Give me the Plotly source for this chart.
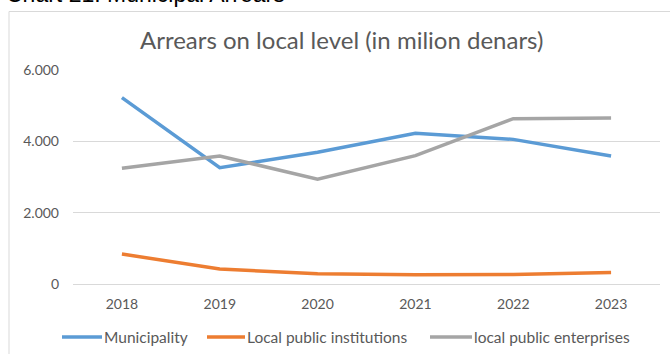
import plotly.graph_objects as go

# Arrears on local level, in million denars
years = ["2018", "2019", "2020", "2021", "2022", "2023"]
municipality = [5225, 3260, 3695, 4225, 4055, 3590]
local_public_institutions = [840, 420, 290, 260, 265, 320]
local_public_enterprises = [3245, 3590, 2935, 3600, 4635, 4655]

series_names = ["Municipality", "Local public institutions", "local public enterprises"]
series_colors = ["#5B9BD5", "#ED7D31", "#A5A5A5"]

W, H = 670, 354
ML, MR, MT, MB = 73, 10, 70, 70
PW, PH = W - ML - MR, H - MT - MB


def px_x(px):
    return (px - ML) / PW


def px_y(py):
    return (H - MB - py) / PH


fig = go.Figure()
for name, vals, col in zip(series_names,
                           [municipality, local_public_institutions, local_public_enterprises],
                           series_colors):
    fig.add_trace(go.Scatter(
        x=years, y=vals, name=name, mode="lines",
        line=dict(color=col, width=3.5), showlegend=False,
    ))

text_font = "Lato, 'Open Sans', sans-serif"

# Legend row below the axis: a 40px line key followed by its label
legend_key_x = [(62, 102), (207, 245), (430, 472)]
legend_y = 337
legend_shapes, legend_labels = [], []
for name, col, (kx0, kx1) in zip(series_names, series_colors, legend_key_x):
    legend_shapes.append(dict(
        type="line", xref="paper", yref="paper",
        x0=px_x(kx0), x1=px_x(kx1), y0=px_y(legend_y), y1=px_y(legend_y),
        line=dict(color=col, width=3.5),
    ))
    legend_labels.append(dict(
        text=name, xref="paper", yref="paper", x=px_x(kx1), y=px_y(legend_y),
        xanchor="left", yanchor="middle", showarrow=False,
        font=dict(family=text_font, size=15.5, color="#595959"),
    ))

fig.update_layout(
    width=W, height=H,
    margin=dict(l=ML, r=MR, t=MT, b=MB, pad=0, autoexpand=False),
    paper_bgcolor="white", plot_bgcolor="white",
    separators=",.",
    showlegend=False,
    xaxis=dict(
        type="category", range=[-0.5, 5.5], showgrid=False, zeroline=False,
        showline=False, ticks="", automargin=False,
        tickfont=dict(family=text_font, size=14, color="#595959"),
        ticklabelstandoff=10,
    ),
    yaxis=dict(
        range=[0, 6000], tickvals=[0, 2000, 4000, 6000], tickformat=",d",
        showgrid=True, gridcolor="#D9D9D9", gridwidth=1,
        zeroline=True, zerolinecolor="#D9D9D9", zerolinewidth=1,
        showline=False, ticks="", automargin=False,
        tickfont=dict(family=text_font, size=14, color="#595959"),
        ticklabelstandoff=13,
    ),
    shapes=[dict(
        type="rect", xref="paper", yref="paper",
        x0=px_x(9), x1=px_x(720), y0=px_y(400), y1=px_y(11.5),
        line=dict(color="#D9D9D9", width=1), fillcolor="rgba(0,0,0,0)", layer="below",
    )] + legend_shapes,
    annotations=[
        dict(text="Chart 21: Municipal Arrears", xref="paper", yref="paper",
             x=px_x(4), y=px_y(9), xanchor="left", yanchor="bottom", showarrow=False,
             font=dict(family="'Liberation Sans', Arial, sans-serif", size=23, color="#000000")),
        dict(text="Arrears on local level (in milion denars)", xref="paper", yref="paper",
             x=px_x(341), y=px_y(39), xanchor="center", yanchor="middle", showarrow=False,
             font=dict(family=text_font, size=24, color="#595959")),
    ] + legend_labels,
)

fig.write_html("out.html")
